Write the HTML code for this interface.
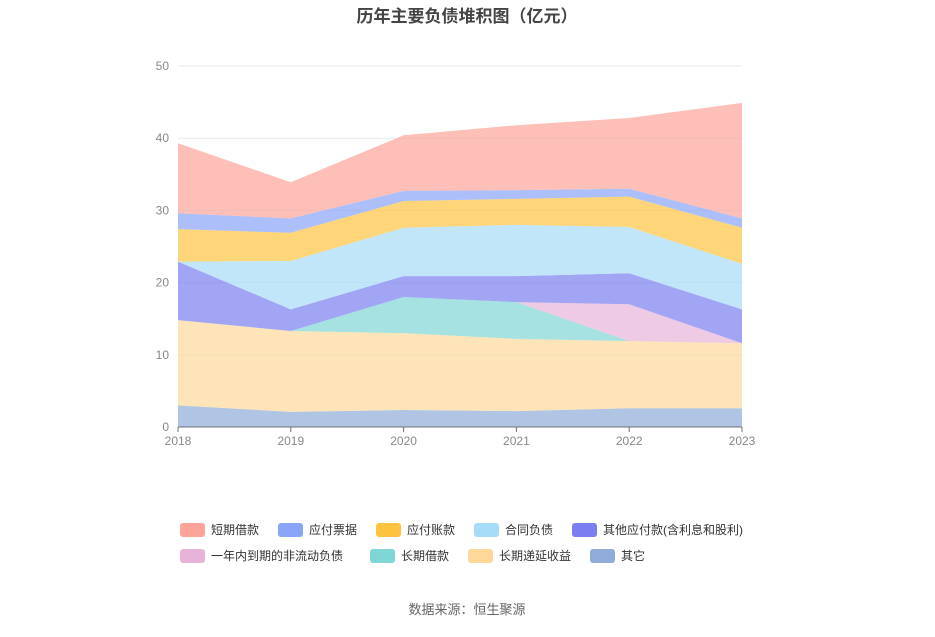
<!DOCTYPE html>
<html><head><meta charset="utf-8"><style>
body{margin:0;background:#fff;font-family:"Liberation Sans","Noto Sans CJK SC",sans-serif}
svg text{font-family:"Liberation Sans","Noto Sans CJK SC",sans-serif}
</style></head><body>
<svg id="c" width="935" height="632"></svg>
<script>
const years=["2018","2019","2020","2021","2022","2023"];
const yTicks=[0,10,20,30,40,50];
const names=["其它","长期递延收益","长期借款","一年内到期的非流动负债","其他应付款(含利息和股利)","合同负债","应付账款","应付票据","短期借款"];
const sOther=[3.0,2.1,2.35,2.2,2.6,2.6];
const sDeferred=[11.8,11.2,10.65,10.0,9.3,9.0];
const sLongLoan=[0,0,5.0,5.1,0,0];
const sCurrentNC=[0,0,0,0,5.1,0];
const sOtherPay=[8.1,3.0,2.9,3.6,4.3,4.7];
const sContract=[0,6.7,6.7,7.1,6.4,6.3];
const sAccounts=[4.5,3.9,3.7,3.6,4.2,5.0];
const sNotes=[2.2,2.0,1.4,1.2,1.1,1.3];
const sShort=[9.7,5.0,7.7,9.0,9.8,16.0];
const series=[sOther,sDeferred,sLongLoan,sCurrentNC,sOtherPay,sContract,sAccounts,sNotes,sShort];
const colors=["#8fadd8","#fdd89a","#7fd6d4","#e8b3d8","#7b7ef0","#a6dcf8","#fdc33f","#8aa4f8","#fca49a"];
const slugs=["other","deferred-income","long-term-loan","current-noncurrent","other-payables","contract-liabilities","accounts-payable","notes-payable","short-term-loan"];
const svg=document.getElementById('c');const NS="http://www.w3.org/2000/svg";
const x=i=>178+i*(742-178)/(years.length-1);
const y=v=>427-v*(427-66)/50;
function mk(t,a,p){const e=document.createElementNS(NS,t);for(const k in a)e.setAttribute(k,a[k]);(p||svg).appendChild(e);return e;}
let t=mk('text',{x:467,y:22,'text-anchor':'middle','font-size':17,'font-weight':'bold',fill:'#444'});t.textContent="历年主要负债堆积图（亿元）";

yTicks.forEach(v=>{const l=mk('line',{x1:178,x2:742,y1:y(v),y2:y(v),stroke:v?'#e6e9f0':'#6e7079'});

const tx=mk('text',{x:169,y:y(v)+4,'text-anchor':'end','font-size':12,fill:'#888'});tx.textContent=v;
});
years.forEach((yr,i)=>{const tk=mk('line',{x1:x(i),x2:x(i),y1:427,y2:432,stroke:'#6e7079'});

const tx=mk('text',{x:x(i),y:445,'text-anchor':'middle','font-size':12,fill:'#888'});tx.textContent=yr;
});
let base=years.map(()=>0);
series.forEach((s,k)=>{const top=s.map((v,i)=>base[i]+v);
let d=top.map((v,i)=>(i?'L':'M')+x(i)+','+y(v)).join('');
for(let i=years.length-1;i>=0;i--)d+='L'+x(i)+','+y(base[i]);
const p=mk('path',{d:d+'Z',fill:colors[k],'fill-opacity':0.7,stroke:'none'});

base=top;});
mk('line',{x1:178,x2:742,y1:427,y2:427,stroke:'#6e7079'});
const legendOrder=[8,7,6,5,4,3,2,1,0];
const lx=[180,278,376,474,572,180,370,468,590];const ly=[530,530,530,530,530,556,556,556,556];
legendOrder.forEach((k,j)=>{const g=mk('g',{});

mk('rect',{x:lx[j],y:ly[j]-7,width:25,height:14,rx:3,fill:colors[k]},g);
const tx=mk('text',{x:lx[j]+31,y:ly[j]+4,'font-size':12,fill:'#333'},g);tx.textContent=names[k];});
t=mk('text',{x:467,y:614,'text-anchor':'middle','font-size':13,fill:'#666'});t.textContent="数据来源：恒生聚源";

</script>
</body></html>
